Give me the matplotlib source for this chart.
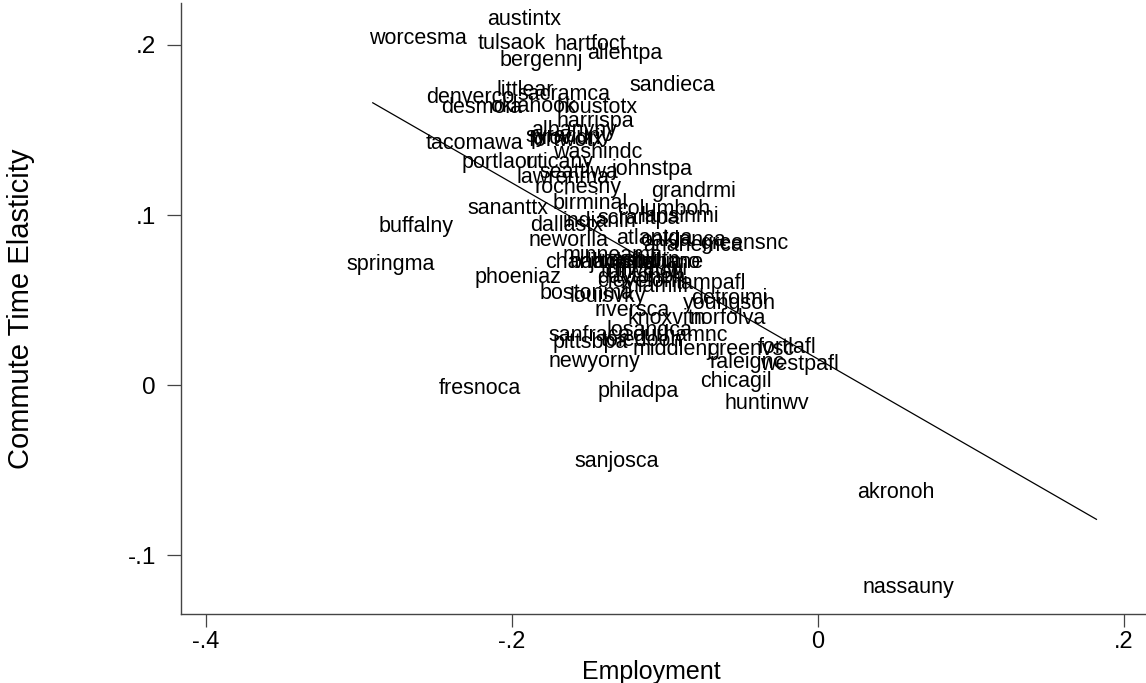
import matplotlib
matplotlib.use("Agg")
import matplotlib.pyplot as plt

plt.rcParams['font.family'] = ['Liberation Sans', 'DejaVu Sans']

# city labels with (employment, commute time elasticity)
cities = ['austintx', 'worcesma', 'tulsaok', 'hartfoct', 'allentpa', 'bergennj',
          'sandieca', 'littlear', 'sacramca', 'denverco', 'desmoia', 'oklahook',
          'houstotx', 'harrispa', 'albanyny', 'syracuny', 'providri', 'fortwotx',
          'tacomawa', 'washindc', 'portlaor', 'uticany', 'johnstpa', 'lawrenma',
          'seattlwa', 'rochesny', 'grandrmi', 'birminal', 'sananttx', 'columboh',
          'scrantpa', 'lansinmi', 'buffalny', 'dallastx', 'indianin', 'neworlla',
          'atlantga', 'oaklanca', 'anahemca', 'greensnc', 'springma', 'minneamn',
          'charlonc', 'baltimmd', 'jacksofl', 'nashvitn', 'omahane', 'stlouimo',
          'milwauwi', 'cincinoh', 'daytonoh', 'cleveloh', 'miamifl', 'tampafl',
          'phoeniaz', 'bostonma', 'louisvky', 'detroimi', 'youngsoh', 'riversca',
          'knoxvitn', 'norfolva', 'losangca', 'sanfraca', 'durhamnc', 'pittsbpa',
          'toledooh', 'middlenj', 'greenvsc', 'fortlafl', 'westpafl', 'raleignc',
          'newyorny', 'chicagil', 'fresnoca', 'philadpa', 'huntinwv', 'sanjosca',
          'akronoh', 'nassauny']

employment = [-0.218, -0.295, -0.224, -0.174, -0.153, -0.210,
              -0.125, -0.212, -0.198, -0.258, -0.248, -0.216,
              -0.173, -0.173, -0.189, -0.193, -0.190, -0.191,
              -0.258, -0.175, -0.235, -0.193, -0.137, -0.199,
              -0.184, -0.187, -0.111, -0.175, -0.231, -0.133,
              -0.146, -0.118, -0.289, -0.190, -0.169, -0.191,
              -0.134, -0.118, -0.116, -0.079, -0.310, -0.169,
              -0.180, -0.164, -0.151, -0.144, -0.135, -0.131,
              -0.144, -0.141, -0.146, -0.146, -0.131, -0.095,
              -0.226, -0.184, -0.164, -0.085, -0.090, -0.148,
              -0.126, -0.086, -0.140, -0.178, -0.123, -0.175,
              -0.144, -0.123, -0.074, -0.041, -0.040, -0.073,
              -0.178, -0.079, -0.250, -0.146, -0.063, -0.161,
              0.024, 0.027]

elasticity = [0.215, 0.204, 0.201, 0.200, 0.195, 0.191,
              0.176, 0.173, 0.171, 0.169, 0.163, 0.164,
              0.163, 0.155, 0.150, 0.146, 0.145, 0.144,
              0.142, 0.137, 0.131, 0.131, 0.127, 0.122,
              0.125, 0.116, 0.114, 0.107, 0.104, 0.103,
              0.098, 0.099, 0.093, 0.094, 0.096, 0.085,
              0.086, 0.085, 0.082, 0.083, 0.071, 0.076,
              0.072, 0.072, 0.072, 0.073, 0.072, 0.072,
              0.068, 0.066, 0.063, 0.061, 0.058, 0.060,
              0.063, 0.054, 0.052, 0.051, 0.048, 0.044,
              0.039, 0.039, 0.032, 0.029, 0.029, 0.025,
              0.026, 0.021, 0.021, 0.022, 0.012, 0.013,
              0.014, 0.002, -0.002, -0.004, -0.011, -0.045,
              -0.063, -0.119]

# fitted line end points
fit_x = [-0.291, 0.182]
fit_y = [0.166, -0.079]

fig = plt.figure(figsize=(11.46, 6.83), dpi=100)
ax = fig.add_axes([0.158, 0.101, 0.842, 0.8946])

for name, xv, yv in zip(cities, employment, elasticity):
    ax.annotate(name, (xv, yv), xytext=(2, 0), textcoords='offset points',
                ha='left', va='center', fontsize=15.5, color='black')

ax.plot(fit_x, fit_y, color='black', linewidth=0.9)

ax.set_xlim(-0.4163, 0.2144)
ax.set_ylim(-0.1347, 0.2247)
ax.set_xticks([-0.4, -0.2, 0, 0.2])
ax.set_xticklabels(['-.4', '-.2', '0', '.2'])
ax.set_yticks([-0.1, 0, 0.1, 0.2])
ax.set_yticklabels(['-.1', '0', '.1', '.2'])

for side in ['top', 'right']:
    ax.spines[side].set_visible(False)
for side in ['left', 'bottom']:
    ax.spines[side].set_color('#444444')
    ax.spines[side].set_linewidth(1.0)
ax.tick_params(axis='y', direction='out', length=10, width=0.9,
               color='#444444', labelsize=17.5, pad=8)
ax.tick_params(axis='x', direction='out', length=9, width=0.9,
               color='#444444', labelsize=17, pad=3)

ax.set_xlabel('Employment', fontsize=18)
ax.xaxis.set_label_coords(0.487, -0.075)
ax.set_ylabel('Commute Time Elasticity', fontsize=21)
ax.yaxis.set_label_coords(-0.151, 0.5)

fig.savefig('out.png', dpi=100)
